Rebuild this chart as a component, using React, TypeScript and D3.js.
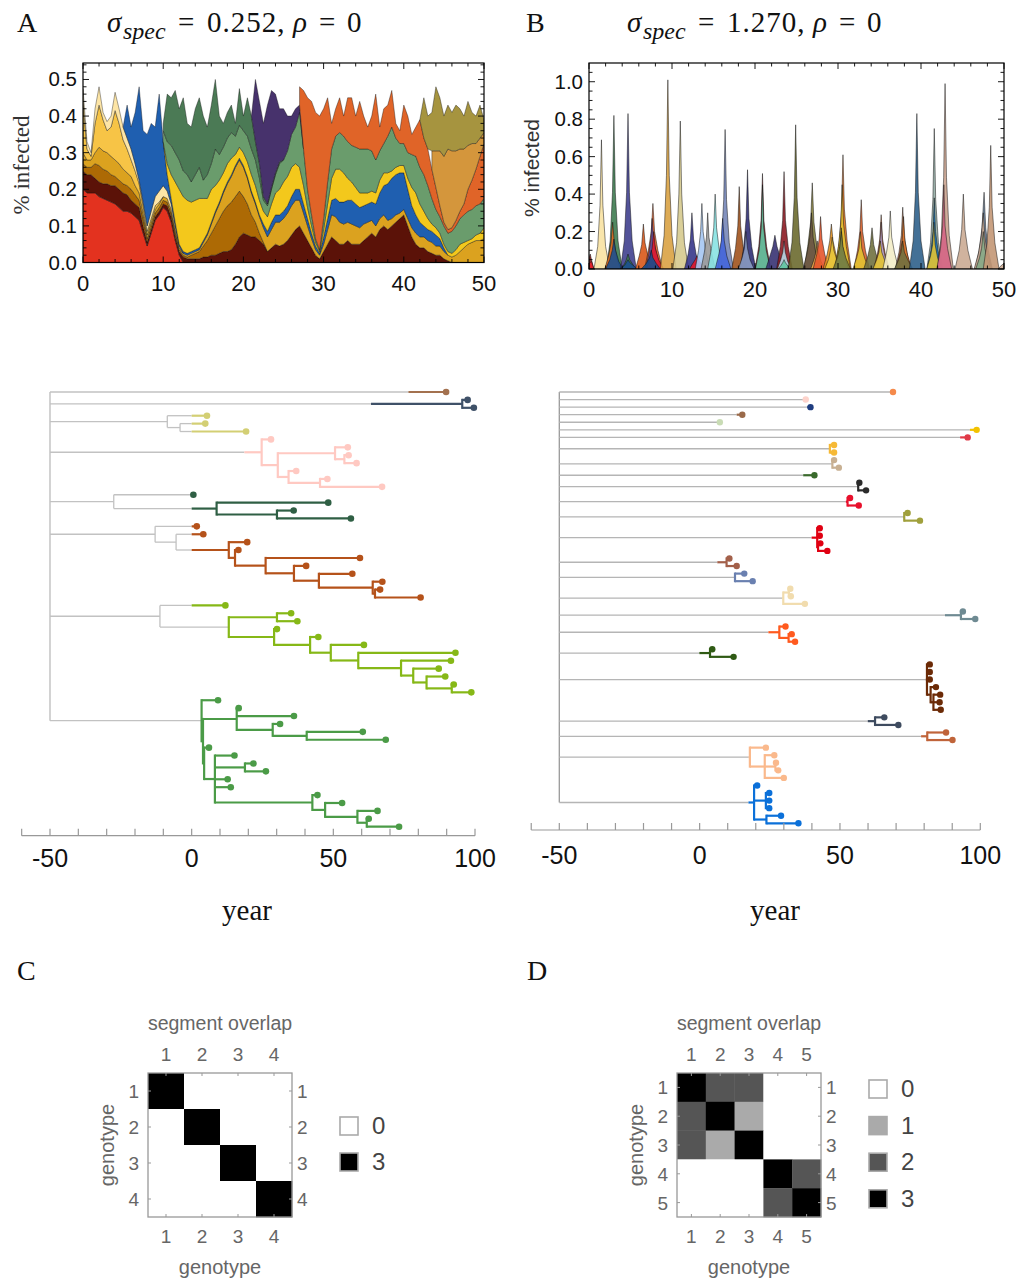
import React from 'react';
import * as d3 from 'd3';

const SANS = "'Liberation Sans', Arial, sans-serif";
const SERIF = "'Liberation Serif', 'Times New Roman', serif";

// ================= Panel A: stacked prevalence (step 0.5 yr) =================
const stackKeys = ['red', 'maroon', 'dkgold', 'goldenrod', 'lightgold', 'cream', 'blue', 'yellow', 'green', 'dkgreen', 'purple', 'orange', 'tan', 'olive'];
const stackColors = ['#e3321f', '#5b1208', '#ad6a05', '#dba21f', '#f7c446', '#fde5a6', '#1f5fb0', '#f3c81c', '#6a9c6c', '#4b7a55', '#47326c', '#e06428', '#d4963c', '#a6943f'];
const stackStarts = [0, 0, 0, 0, 0, 0, 5, 10, 10, 10, 21, 27, 43.5, 42];

const redVals = [.20, .19, .19, .19, .18, .175, .17, .165, .16, .15, .14, .14, .135, .125, .115, .08, .045, .08, .115, .13, .15, .14, .11, .06, .02, 0];
const maroonVals = [.05, .05, .05, .04, .04, .04, .045, .045, .05, .05, .05, .045, .035, .035, .035, .02, .01, .01, .01, .01, .01, .015, .015, .01, .01, .015,
  .01, .01, .01, .01, .015, .015, .02, .02, .025, .03, .03, .035, .05, .07, .08, .075, .07, .07,
  .06, .05, .03, .04, .05, .045, .05, .06, .075, .09, .10, .08,
  .06, .04, .02, .01, .03, .05, .07, .06, .05, .05, .06,
  .05, .05, .05, .06, .07, .08, .07, .09, .10, .09, .10, .11, .12, .13, .10, .07, .05, .04, .04, .03, .025, .02, .02, .01, .005, 0];
const dkgoldVals = [.02, .02, .02, .04, .045, .04, .035, .03, .025, .025, .025, .025, .03, .025, .02, .02, .01, .01, .01, .01, .01, .01, .01, .01, .005, .005,
  .005, .01, .015, .02, .03, .045, .06, .08, .095, .11, .125, .13, .13, .125, .10, .085, .06, .04, .02, .005, 0];
const goldenrodVals = [.03, .02, .02, .03, .05, .05, .05, .05, .045, .045, .04, .035, .035, .025, .02, .015, .01, .01, .01, .01, .01, .01, .01, .01, .005, .005,
  .005, .005, .005, .005, .01, .015, .025, .035,
  .04, .05, .06, .07, .08, .085, .08, .07, .06, .05,
  .045, .04, .04, .05, .06, .065, .07, .075, .08, .08, .07, .055,
  .04, .025, .015, .01, .02, .04, .06, .065, .06, .055, .05,
  .055, .05, .045, .045, .04, .035, .03, .03, .03, .025, .02, .02, .015, .015, .02, .025, .03, .03, .03, .03, .03, .025, .025, .02, .015, .015, .02, .03, .04, .05, .055, .06, .06, .065];
const lightgoldVals = [.14, .03, .01, .08, .115, .085, .06, .08, .135, .11, .08, .065, .045, .04, .025, .02, .01, .01, .01, .005, 0];
const creamVals = [.035, .02, .01, .04, .05, .02, .025, .03, .05, .04, .035, .03, .03, .02, .01, .01, .015, .02, .025, .03, .03, .02, .015, .01, .005, 0];
const blueVals = [0, .09, .06, .14, .255, .195, .25, .24, .19, .265, .12, .045, .015, .01, .005, .005,
  .005, .005, .005, .005, .005, .005, .005, .005, .005, .005, .005, .005, .005, .005, .005, .005, .005, .005,
  .005, .01, .015, .02, .02, .02, .02, .02, .025, .03, .03, .025,
  .02, .015, .01, .005, .02, .03, .04, .05, .055, .06, .06,
  .065, .06, .055, .05, .05, .05, .06, .07, .08, .10, .11, .11, .11, .10, .08, .06, .05, .04, .03, .03, .03, .03, .02, .01, 0];
const yellowVals = [0, .03, .065, .11, .15, .15, .145, .135, .135, .135, .115, .095, .09, .07, .06, .05, .05, .045, .03, .03, .035, .04, .045, .045, .04, .035,
  .04, .05, .06, .07, .08, .08, .08, .07, .06, .05, .03, .02, .01, .005, .02, .04, .06, .08, .09, .08, .06, .05, .045, .04, .035, .03, .03, .03, .035, .035,
  .03, .02, .02, .02, .02, .03, .05, .06, .05, .04, .03, .02, .02, .015, .01, .01, .01, .015, .02, .015, .01, .01, .015, .02, .03];
const greenVals = [.03, .06, .08, .08, .08, .07, .07, .055, .07, .085, .05, .065, .07, .10, .07, .07, .07, .07, .05, .06, .06, .07, .07, .07, .06, .03,
  .03, .04, .05, .07, .06, .07, .09, .10, .15, .10, .05, .03, .01, .005, .03, .06, .08, .09, .10, .10, .10, .10, .11, .12, .12, .12, .11, .09, .08, .08,
  .10, .12, .08, .06, .06, .07, .09, .10, .10, .10, .09, .07, .05, .045, .05, .05, .06, .065, .07, .075, .08, .08, .08, .08, .08];
const dkgreenVals = [.02, .13, .13, .17, .14, .20, .14, .15, .18, .19, .175, .13, .16, .19, .105, .065, .07, .075, .035, .10, .04, .105, .09, .05, .04, .01, .005, .005, .005, .005, 0];
const purpleVals = [0, .17, .17, .20, .27, .265, .215, .145, .14, .095, .05, .05, .02, 0];
const orangeVals = [.05, .16, .25, .31, .345, .365, .30, .23, .07, .075, .095, .055, .12, .13, .085, .13, .09, .06, .095, .18, .065, .095, .085, .10, .04, .035,
  .105, .10, .055, .08, .13, .10, .10, .08, .06, .03, .01, .01, .01, .015, .02, .03, .06, .08, .10, .13, .15];
const tanVals = [.05, .10, .15, .18, .22, .21, .19, .17, .15, .12, .10, .07, .05, .03];
const oliveVals = [0, .11, .09, .105, .175, .145, .11, .12, .105, .125, .11, .09, .12, .085, .075, .09, .035];
const stackValues = [redVals, maroonVals, dkgoldVals, goldenrodVals, lightgoldVals, creamVals, blueVals, yellowVals, greenVals, dkgreenVals, purpleVals, orangeVals, tanVals, oliveVals];

const aYTicks = [0, 0.1, 0.2, 0.3, 0.4, 0.5];
const bYTicks = [0, 0.2, 0.4, 0.6, 0.8, 1.0];
const xTicks = [0, 10, 20, 30, 40, 50];

// ================= Panel B: epidemic peaks =================
const peakColors = ['#8a1c1c', '#e8202a', '#f8e2a2', '#3e7b50', '#e06a22', '#1b4f8f', '#40408e', '#3e7b50', '#1b4f8f', '#d9581a',
  '#e3622c', '#5a4ba0', '#e2182c', '#1a4d8c', '#d9a244', '#d6ca8e', '#36368a', '#e2182c', '#a5c6f2', '#9a9a9a',
  '#88e2e2', '#7586b8', '#4466da', '#a1531d', '#2f2f74', '#8a9bc2', '#8c1c24', '#60c4a2', '#373272', '#8c1c24',
  '#b8d8e8', '#60c4a2', '#6b6a2f', '#86803f', '#6a5444', '#f2a74a', '#e5552b', '#e3901f', '#e8c83c', '#e07020',
  '#e2c232', '#60c4a2', '#7a7a3a', '#d9622c', '#e2c232', '#717140', '#e0692f', '#b3a4d2', '#e2c232', '#f3edc8',
  '#b07049', '#e0762a', '#707040', '#2f608b', '#95ada5', '#1a70b2', '#e2c232', '#caa38f', '#d46585', '#cbab93',
  '#6a8098', '#cbab93', '#86a886', '#c39775', '#cbab93'];
const peakTimes = [
  [0, 0.15, 0.3, 0.6], [0, 0.3, 0.6],
  [0.6, 1.05, 1.33, 1.5, 1.67, 2.0, 2.5], [2.1, 2.55, 2.83, 3.0, 3.17, 3.5, 4.0], [1.9, 2.35, 2.65, 2.85, 3.05, 3.35, 3.8],
  [2.0, 2.5, 2.8, 3.0, 3.2, 3.6, 4.1], [3.8, 4.25, 4.53, 4.7, 4.87, 5.2, 5.7], [3.9, 4.3, 4.5, 4.7, 4.9, 5.2, 5.6],
  [3.8, 4.3, 4.5, 4.7, 4.9, 5.3, 5.8], [5.6, 6.05, 6.35, 6.55, 6.75, 7.05, 7.5], [6.7, 7.15, 7.5, 7.7, 7.9, 8.3, 8.9],
  [6.8, 7.2, 7.45, 7.6, 7.8, 8.2, 8.7], [6.9, 7.3, 7.6, 7.8, 8.0, 8.4, 9.0], [6.3, 6.9, 7.3, 7.5, 7.7, 8.1, 8.6],
  [8.6, 9.05, 9.33, 9.5, 9.67, 10.0, 10.5], [10.1, 10.55, 10.83, 11.0, 11.17, 11.5, 12.0], [11.5, 11.95, 12.22, 12.4, 12.6, 12.9, 13.4],
  [12.1, 12.5, 12.8, 13.0, 13.2, 13.5, 13.9], [12.8, 13.2, 13.45, 13.6, 13.75, 14.05, 14.5], [13.5, 13.9, 14.15, 14.3, 14.45, 14.75, 15.2],
  [14.3, 14.75, 15.03, 15.2, 15.37, 15.7, 16.2], [15.5, 15.95, 16.23, 16.4, 16.57, 16.9, 17.4], [15.2, 15.65, 15.93, 16.1, 16.3, 16.6, 17.1],
  [17.2, 17.65, 17.93, 18.1, 18.27, 18.6, 19.1], [18.2, 18.65, 18.93, 19.1, 19.27, 19.6, 20.1], [18.0, 18.45, 18.72, 18.9, 19.1, 19.4, 19.9],
  [20.0, 20.45, 20.73, 20.9, 21.07, 21.4, 21.9], [20.05, 20.5, 20.75, 20.9, 21.05, 21.35, 21.85], [21.3, 21.8, 22.15, 22.4, 22.65, 23.0, 23.4],
  [22.6, 23.05, 23.33, 23.5, 23.67, 24.0, 24.5], [22.7, 23.1, 23.35, 23.5, 23.65, 23.95, 24.4], [22.8, 23.15, 23.35, 23.5, 23.65, 23.9, 24.3],
  [24.0, 24.45, 24.73, 24.9, 25.07, 25.4, 25.9], [25.9, 26.35, 26.7, 26.9, 27.1, 27.45, 28.0], [25.8, 26.25, 26.6, 26.8, 27.0, 27.35, 27.9],
  [26.7, 27.1, 27.35, 27.5, 27.65, 27.95, 28.4], [27.0, 27.45, 27.73, 27.9, 28.07, 28.4, 28.9], [28.2, 28.7, 29.0, 29.2, 29.4, 29.75, 30.3],
  [28.4, 28.85, 29.1, 29.3, 29.5, 29.85, 30.4], [29.7, 30.15, 30.43, 30.6, 30.77, 31.1, 31.6], [29.6, 30.05, 30.33, 30.5, 30.67, 31.0, 31.5],
  [29.6, 30.0, 30.25, 30.4, 30.55, 30.85, 31.3], [29.4, 29.9, 30.2, 30.4, 30.6, 30.95, 31.5], [31.9, 32.35, 32.63, 32.8, 32.97, 33.3, 33.8],
  [31.8, 32.25, 32.53, 32.7, 32.87, 33.2, 33.7], [33.1, 33.6, 33.9, 34.1, 34.3, 34.65, 35.2], [34.3, 34.75, 35.03, 35.2, 35.37, 35.7, 36.2],
  [34.4, 34.8, 35.05, 35.2, 35.35, 35.65, 36.1], [34.2, 34.65, 34.93, 35.1, 35.27, 35.6, 36.1], [35.4, 35.85, 36.13, 36.3, 36.47, 36.8, 37.3],
  [36.9, 37.35, 37.63, 37.8, 37.97, 38.3, 38.8], [37.0, 37.45, 37.73, 37.9, 38.07, 38.4, 38.9], [36.8, 37.3, 37.6, 37.8, 38.0, 38.4, 39.0],
  [38.6, 39.05, 39.33, 39.5, 39.67, 40.0, 40.5], [40.7, 41.15, 41.43, 41.6, 41.77, 42.1, 42.6], [40.75, 41.2, 41.45, 41.6, 41.75, 42.05, 42.5],
  [40.7, 41.15, 41.4, 41.55, 41.7, 42.0, 42.4], [42.0, 42.45, 42.73, 42.9, 43.07, 43.4, 43.9], [41.9, 42.35, 42.6, 42.75, 42.9, 43.2, 43.7],
  [44.1, 44.6, 44.9, 45.1, 45.3, 45.65, 46.2], [46.5, 47.0, 47.35, 47.6, 47.8, 48.1, 48.6], [46.4, 46.9, 47.25, 47.5, 47.7, 48.0, 48.5],
  [46.6, 47.05, 47.3, 47.5, 47.7, 48.0, 48.4], [47.5, 47.95, 48.23, 48.4, 48.57, 48.9, 49.4], [49.3, 49.7, 50.0]];
const peakValues = [
  [.06, .08, .05, 0], [.03, .04, 0],
  [0, .12, .34, .69, .34, .12, 0], [0, .15, .41, .82, .41, .15, 0], [0, .07, .14, .25, .14, .06, 0],
  [0, .05, .10, .16, .10, .04, 0], [0, .15, .41, .83, .41, .15, 0], [0, .03, .05, .08, .05, .03, 0],
  [0, .02, .035, .05, .035, .02, 0], [0, .07, .13, .24, .14, .08, 0], [0, .10, .20, .35, .20, .10, 0],
  [0, .08, .16, .27, .15, .07, 0], [0, .05, .11, .20, .11, .05, 0], [0, .03, .06, .10, .06, .03, 0],
  [0, .18, .50, 1.01, .50, .18, 0], [0, .14, .40, .79, .40, .14, 0], [0, .08, .16, .30, .16, .08, 0],
  [0, .03, .05, .07, .05, .03, 0], [0, .10, .20, .35, .20, .10, 0], [0, .09, .17, .30, .17, .09, 0],
  [0, .11, .22, .40, .22, .10, 0], [0, .14, .37, .745, .37, .14, 0], [0, .08, .15, .27, .15, .07, 0],
  [0, .11, .23, .44, .23, .11, 0], [0, .12, .27, .53, .27, .12, 0], [0, .06, .11, .20, .11, .05, 0],
  [0, .12, .26, .51, .26, .12, 0], [0, .10, .22, .45, .22, .10, 0], [0, .07, .12, .18, .12, .07, 0],
  [0, .12, .26, .52, .26, .12, 0], [0, .05, .09, .15, .09, .04, 0], [0, .02, .035, .05, .035, .02, 0],
  [0, .14, .38, .77, .38, .14, 0], [0, .12, .25, .46, .25, .12, 0], [0, .08, .17, .30, .17, .08, 0],
  [0, .05, .09, .15, .09, .04, 0], [0, .08, .16, .28, .16, .08, 0], [0, .08, .15, .24, .15, .08, 0],
  [0, .05, .10, .17, .10, .05, 0], [0, .15, .32, .61, .32, .15, 0], [0, .12, .24, .45, .24, .12, 0],
  [0, .06, .12, .22, .12, .06, 0], [0, .06, .12, .20, .12, .06, 0], [0, .10, .20, .37, .20, .10, 0],
  [0, .06, .11, .20, .11, .06, 0], [0, .07, .13, .22, .13, .07, 0], [0, .08, .16, .29, .16, .08, 0],
  [0, .07, .14, .25, .14, .07, 0], [0, .05, .09, .15, .09, .05, 0], [0, .09, .17, .31, .17, .09, 0],
  [0, .09, .18, .33, .18, .09, 0], [0, .08, .15, .28, .15, .07, 0], [0, .05, .09, .15, .09, .05, 0],
  [0, .15, .41, .83, .41, .15, 0], [0, .14, .37, .75, .37, .14, 0], [0, .10, .20, .38, .20, .10, 0],
  [0, .07, .13, .25, .13, .06, 0], [0, .18, .49, .99, .49, .18, 0], [0, .11, .23, .45, .23, .11, 0],
  [0, .10, .21, .40, .21, .10, 0], [0, .10, .22, .41, .22, .10, 0], [0, .08, .17, .30, .17, .08, 0],
  [0, .06, .11, .20, .11, .05, 0], [0, .14, .33, .66, .33, .14, 0], [0, .02, .03]];

// ================= Trees =================
interface TNode { t: number; col?: string; cs?: number; ch?: TNode[] }
const lf = (t: number, col?: string, cs?: number): TNode => ({ t, col, cs });
const nd = (t: number, ch: TNode[], col?: string, cs?: number): TNode => ({ t, ch, col, cs });

const treeA = nd(-50, [
  lf(89.8, '#a3714f', 76.5),
  nd(95.5, [lf(97.4), lf(99.6)], '#3f5168', 63.3),
  nd(-8.6, [lf(5.4), nd(-4.1, [lf(4.8), lf(19.2)])], '#d3cf74', 0),
  nd(24.7, [lf(28), nd(30.4, [nd(50.6, [lf(55.1), nd(53.9, [lf(55.4), lf(58.2)])]), nd(34.2, [lf(36.9), nd(45.3, [lf(47.9), lf(67.2)])])])], '#ffc9c2', 18.6),
  nd(-27.5, [lf(0.6), nd(8.8, [lf(48.2), nd(30.1, [lf(36), lf(56.2)])])], '#2f5f44', 0),
  nd(-12.9, [lf(1.8), nd(-5.5, [lf(4.1), nd(13.1, [lf(19.6), nd(15.3, [lf(16.5), nd(26.1, [lf(59.4), nd(36.1, [lf(40.4), nd(44.9, [lf(56.7), nd(63.9, [lf(67.3), nd(64.7, [lf(66.5), lf(80.8)])])])])])])])])], '#b5521a', 0),
  nd(-11.2, [lf(11.9), nd(13.1, [nd(30.1, [lf(35.1), lf(37.3)]), nd(29.1, [lf(30.1), nd(41.8, [lf(44.7), nd(49.1, [lf(60.8), nd(58.8, [lf(93.1), nd(73.9, [lf(91.5), nd(78.2, [lf(87.2), nd(82.9, [lf(89.5), nd(91.8, [lf(92.5), lf(98.7)])])])])])])])])], undefined, 13.1)], '#86b817', 0),
  nd(3.5, [lf(9.3), nd(4.0, [nd(15.9, [lf(16.6), lf(36.1), nd(28.6, [lf(31.2), nd(40.6, [lf(60.4), lf(68.5)])])]), nd(4.4, [lf(6.1), nd(8.2, [lf(15.1), nd(18.8, [lf(21.8), lf(26.2)]), lf(12.7), lf(13.8), nd(42.6, [lf(44.4), nd(47.1, [lf(53.1), nd(58.5, [lf(65.6), nd(61.8, [lf(62.5), lf(73.2)])])])])])])])], '#4b9b47', 3.5),
]);

const treeB = nd(-50, [
  lf(68.9, '#f58a4b', 68.9),
  lf(37.8, '#fdd3cb', 37.8),
  lf(39.5, '#1f3d80', 38.4),
  lf(15.2, '#9a6a4a', 13.2),
  lf(7.2, '#c9dcb5', 7.2),
  lf(98.7, '#f2c200', 96.3),
  lf(95.5, '#e03a48', 92.8),
  nd(46.4, [lf(47.9), lf(47.9)], '#f6b935', 46.2),
  nd(47.3, [lf(47.9), lf(49.6)], '#c8b092', 47.2),
  lf(40.9, '#3a6a2c', 36.9),
  nd(56.5, [lf(56.9), lf(59.3)], '#2b2b2b', 56.3),
  nd(52.7, [lf(53.6), lf(56.7)], '#e8102c', 52.1),
  nd(72.9, [lf(74.1), lf(78.5)], '#a0a03c', 72.6),
  nd(41.9, [lf(42.8), lf(42.8), nd(42.2, [lf(43.0), lf(45.5)])], '#e00012', 39.9),
  nd(9.6, [lf(10.6), lf(13.2)], '#a3604a', 6.3),
  nd(12.6, [lf(15.9), lf(18.9)], '#6a80b0', 12.3),
  nd(29.8, [nd(31.8, [lf(32.3), lf(32.5)]), lf(37.5)], '#f1dcae', 29.4),
  nd(93.1, [lf(93.8), lf(98.2)], '#6e8a92', 87.4),
  nd(28.4, [lf(30.6), nd(31.7, [lf(32.8), lf(34.0)])], '#ff5a1f', 24.5),
  nd(3.7, [lf(4.5), lf(12.1)], '#2f5a14', -0.1),
  nd(81.0, [lf(82), lf(82), lf(82), nd(82.3, [lf(84.2), nd(83.3, [lf(85.7), lf(85.5), lf(85.9)])])], '#6b2a06', 80.6),
  nd(62.5, [lf(65.8), lf(70.8)], '#3e4b5f', 59.9),
  nd(81.1, [lf(87.8), lf(90.1)], '#c0643a', 78.9),
  nd(17.9, [lf(23.6), nd(23.2, [lf(26.6), nd(27.0, [lf(27.2), lf(28.0)]), lf(30.0)])], '#fab98c', 17.5),
  nd(19.4, [lf(20.5), nd(23.6, [lf(24.8), lf(24.8), lf(24.8)]), nd(23.8, [lf(29.0), lf(35.2)])], '#0b70d9', 17.4),
]);

const treeTickYears = [-60, -50, -40, -30, -20, -10, 0, 10, 20, 30, 40, 50, 60, 70, 80, 90, 100];
const treeLabelYears = [-50, 0, 50, 100];

// ================= Heatmaps =================
const cLabels = ['1', '2', '3', '4'];
const cMatrix = [[3, 0, 0, 0], [0, 3, 0, 0], [0, 0, 3, 0], [0, 0, 0, 3]];
const dLabels = ['1', '2', '3', '4', '5'];
const dMatrix = [[3, 2, 2, 0, 0], [2, 3, 1, 0, 0], [2, 1, 3, 0, 0], [0, 0, 0, 3, 2], [0, 0, 0, 2, 3]];
const overlapLevels = [0, 1, 2, 3];
const overlapColors = ['#ffffff', '#aaaaaa', '#555555', '#000000'];
const cLegend = [0, 3];
const dLegend = [0, 1, 2, 3];

// ================= Components =================
function Frame(props: { x: any; y: any; xMinorStep: number; yMajor: number[]; yMinorStep: number; yMax: number; }) {
  const { x, y, xMinorStep, yMajor, yMinorStep, yMax } = props;
  const [x0, x1] = x.range();
  const [yb, yt] = y.range();
  const els: any[] = [];
  const xMin = d3.range(0, 50.0001, xMinorStep);
  xMin.forEach((v, i) => {
    const major = xTicks.includes(v);
    const L = major ? 6 : 3.5;
    els.push(<line key={'xb' + i} x1={x(v)} x2={x(v)} y1={yb} y2={yb - L} stroke="#000" strokeWidth={0.9} />);
    els.push(<line key={'xt' + i} x1={x(v)} x2={x(v)} y1={yt} y2={yt + L} stroke="#000" strokeWidth={0.9} />);
  });
  const yMin = d3.range(0, yMax + 1e-9, yMinorStep);
  yMin.forEach((v, i) => {
    const major = yMajor.some(m => Math.abs(m - v) < 1e-6);
    const L = major ? 6 : 3.5;
    els.push(<line key={'yl' + i} x1={x0} x2={x0 + L} y1={y(v)} y2={y(v)} stroke="#000" strokeWidth={0.9} />);
    els.push(<line key={'yr' + i} x1={x1} x2={x1 - L} y1={y(v)} y2={y(v)} stroke="#000" strokeWidth={0.9} />);
  });
  return (
    <g>
      <rect x={x0} y={yt} width={x1 - x0} height={yb - yt} fill="none" stroke="#000" strokeWidth={1.2} />
      {els}
      {yMajor.map((v, i) => (
        <text key={'yl' + i} x={x0 - 6} y={y(v) + 7} textAnchor="end" fontFamily={SANS} fontSize={20.5} fill="#111">{d3.format('.1f')(v)}</text>
      ))}
      {xTicks.map((v, i) => (
        <text key={'xl' + i} x={x(v)} y={yb + 28} textAnchor="middle" fontFamily={SANS} fontSize={22} fill="#111">{v}</text>
      ))}
    </g>
  );
}

function StackPanel() {
  const x = d3.scaleLinear().domain([0, 50]).range([83, 484]);
  const y = d3.scaleLinear().domain([0, 0.545]).range([262.5, 63]);
  const times = d3.range(0, 50.0001, 0.5);
  const table = times.map((t, i) => {
    const row: any = { t };
    stackKeys.forEach((k, j) => {
      const off = Math.round(stackStarts[j] / 0.5);
      const v = stackValues[j][i - off];
      row[k] = v === undefined ? 0 : v;
    });
    return row;
  });
  const series = d3.stack<any>().keys(stackKeys)(table);
  const area = d3.area<any>().x(d => x(d.data.t)).y0(d => y(d[0])).y1(d => y(d[1]));
  return (
    <g>
      <defs>
        <clipPath id="clipA"><rect x={83} y={63} width={401} height={199.5} /></clipPath>
      </defs>
      <g clipPath="url(#clipA)">
        {series.map((s, j) => {
          const off = Math.round(stackStarts[j] / 0.5);
          const pts = s.slice(off, off + stackValues[j].length);
          return <path key={j} d={area(pts) || ''} fill={stackColors[j]} stroke="#111" strokeOpacity={0.55} strokeWidth={0.7} strokeLinejoin="round" />;
        })}
      </g>
      <Frame x={x} y={y} xMinorStep={2} yMajor={aYTicks} yMinorStep={0.02} yMax={0.54} />
    </g>
  );
}

function PeakPanel() {
  const x = d3.scaleLinear().domain([0, 50]).range([589, 1004]);
  const y = d3.scaleLinear().domain([0, 1.1]).range([269, 63]);
  const area = d3.area<[number, number]>().x(d => x(d[0])).y0(y(0)).y1(d => y(d[1]));
  return (
    <g>
      <defs>
        <clipPath id="clipB"><rect x={589} y={63} width={415} height={206} /></clipPath>
      </defs>
      <g clipPath="url(#clipB)">
        {peakColors.map((c, i) => {
          const pts = peakTimes[i].map((t, k) => [t, peakValues[i][k]] as [number, number]);
          return <path key={i} d={area(pts) || ''} fill={c} fillOpacity={0.9} stroke="#111" strokeOpacity={0.7} strokeWidth={0.7} strokeLinejoin="round" />;
        })}
      </g>
      <Frame x={x} y={y} xMinorStep={2} yMajor={bYTicks} yMinorStep={0.05} yMax={1.09} />
    </g>
  );
}

function Tree(props: { root: TNode; x: any; rowY: any; gray: string; rootGray: string; lw: number; r: number; }) {
  const { root, x, rowY, gray, rootGray, lw, r } = props;
  const ys = new Map<TNode, number>();
  let row = 0;
  const place = (n: TNode): number => {
    if (!n.ch) { const v = rowY(row++); ys.set(n, v); return v; }
    const cy = n.ch.map(place);
    const v = (cy[0] + cy[cy.length - 1]) / 2;
    ys.set(n, v);
    return v;
  };
  place(root);
  const grays: any[] = [], cols: any[] = [], dots: any[] = [];
  let k = 0;
  const walk = (n: TNode, pt: number | undefined, col: string | undefined, cs: number) => {
    const c = n.col ?? col;
    const s = n.cs ?? cs;
    const yv = ys.get(n)!;
    if (pt !== undefined) {
      if (c && n.t > s) {
        const split = Math.max(pt, s);
        if (split > pt) grays.push(<line key={k++} x1={x(pt)} x2={x(split)} y1={yv} y2={yv} stroke={gray} strokeWidth={1.3} />);
        cols.push(<line key={k++} x1={x(split)} x2={x(n.t)} y1={yv} y2={yv} stroke={c} strokeWidth={lw} />);
      } else {
        grays.push(<line key={k++} x1={x(pt)} x2={x(n.t)} y1={yv} y2={yv} stroke={gray} strokeWidth={1.3} />);
      }
    }
    if (n.ch) {
      const ya = ys.get(n.ch[0])!, yb = ys.get(n.ch[n.ch.length - 1])!;
      if (c && n.t >= s) cols.push(<line key={k++} x1={x(n.t)} x2={x(n.t)} y1={ya - lw / 2} y2={yb + lw / 2} stroke={c} strokeWidth={lw} />);
      else grays.push(<line key={k++} x1={x(n.t)} x2={x(n.t)} y1={ya} y2={yb} stroke={pt === undefined ? rootGray : gray} strokeWidth={1.3} />);
      n.ch.forEach(ch => walk(ch, n.t, c, s));
    } else {
      dots.push(<circle key={k++} cx={x(n.t)} cy={yv} r={r} fill={c ?? gray} />);
    }
  };
  walk(root, undefined, undefined, -Infinity);
  return <g>{grays}{cols}{dots}</g>;
}

function TreeAxis(props: { x: any; y: number; labelY: number; yearY: number; yearX: number }) {
  const { x, y, labelY, yearY, yearX } = props;
  return (
    <g>
      <line x1={x(-60)} x2={x(100)} y1={y} y2={y} stroke="#999" strokeWidth={1.2} />
      {treeTickYears.map((v, i) => (
        <line key={i} x1={x(v)} x2={x(v)} y1={y} y2={y - 7} stroke="#999" strokeWidth={1.2} />
      ))}
      {treeLabelYears.map((v, i) => (
        <text key={i} x={x(v)} y={labelY} textAnchor="middle" fontFamily={SANS} fontSize={25} fill="#111">{v < 0 ? '-' + Math.abs(v) : v}</text>
      ))}
      <text x={yearX} y={yearY} textAnchor="middle" fontFamily={SERIF} fontSize={29} fill="#111">year</text>
    </g>
  );
}

function Heat(props: { x0: number; y0: number; size: number; labels: string[]; matrix: number[][]; legend: number[]; lx: number; ly: number; lstep: number; }) {
  const { x0, y0, size, labels, matrix, legend, lx, ly, lstep } = props;
  const bx = d3.scaleBand<string>().domain(labels).range([x0, x0 + size]);
  const by = d3.scaleBand<string>().domain(labels).range([y0, y0 + size]);
  const color = d3.scaleOrdinal<number, string>().domain(overlapLevels).range(overlapColors);
  const cx = x0 + size / 2;
  const bw = bx.bandwidth();
  const tg = '#666';
  return (
    <g>
      {matrix.map((rowv, i) => rowv.map((v, j) => (
        <rect key={i + '-' + j} x={bx(labels[j])!} y={by(labels[i])!} width={bw + 0.3} height={by.bandwidth() + 0.3} fill={color(v)} />
      )))}
      <rect x={x0} y={y0} width={size} height={size} fill="none" stroke="#999" strokeWidth={1.3} />
      {labels.map((l, i) => {
        const px = bx(l)! + bw / 2;
        const py = by(l)! + bw / 2;
        return (
          <g key={i}>
            <line x1={px} x2={px} y1={y0} y2={y0 + 3} stroke="#999" />
            <line x1={px} x2={px} y1={y0 + size} y2={y0 + size - 3} stroke="#999" />
            <line x1={x0} x2={x0 + 3} y1={py} y2={py} stroke="#999" />
            <line x1={x0 + size} x2={x0 + size - 3} y1={py} y2={py} stroke="#999" />
            <text x={px} y={y0 - 12} textAnchor="middle" fontFamily={SANS} fontSize={19} fill={tg}>{l}</text>
            <text x={px} y={y0 + size + 26} textAnchor="middle" fontFamily={SANS} fontSize={19} fill={tg}>{l}</text>
            <text x={x0 - 9} y={py + 7} textAnchor="end" fontFamily={SANS} fontSize={19} fill={tg}>{l}</text>
            <text x={x0 + size + 5} y={py + 7} textAnchor="start" fontFamily={SANS} fontSize={19} fill={tg}>{l}</text>
          </g>
        );
      })}
      <text x={cx} y={y0 - 43} textAnchor="middle" fontFamily={SANS} fontSize={19.5} fill={tg}>segment overlap</text>
      <text x={cx} y={y0 + size + 57} textAnchor="middle" fontFamily={SANS} fontSize={20} fill={tg}>genotype</text>
      <text transform={`translate(${x0 - 34},${y0 + size / 2}) rotate(-90)`} textAnchor="middle" fontFamily={SANS} fontSize={20} fill={tg}>genotype</text>
      {legend.map((v, i) => (
        <g key={'lg' + i}>
          <rect x={lx} y={ly + i * lstep} width={18} height={18} fill={color(v)} stroke="#aaa" strokeWidth={1.6} />
          <text x={lx + 32} y={ly + i * lstep + 17} fontFamily={SANS} fontSize={24} fill="#444">{v}</text>
        </g>
      ))}
    </g>
  );
}

function Title(props: { x: number; parts: number[]; value: string }) {
  const { x, parts, value } = props;
  return (
    <text y={32} fontFamily={SERIF} fontSize={29} fill="#111">
      <tspan x={x} fontStyle="italic">σ</tspan>
      <tspan x={x + parts[0]} fontStyle="italic" fontSize={24} dy={7}>spec</tspan>
      <tspan x={x + parts[1]} dy={-7}>=</tspan>
      <tspan x={x + parts[2]} letterSpacing={1}>{value},</tspan>
      <tspan x={x + parts[3]} fontStyle="italic">ρ</tspan>
      <tspan x={x + parts[4]}>=</tspan>
      <tspan x={x + parts[5]}>0</tspan>
    </text>
  );
}

export default function App() {
  const xTA = d3.scaleLinear().domain([-50, 100]).range([50, 475]);
  const rowA = d3.scaleLinear().domain([0, 55]).range([392, 826.7]);
  const xTB = d3.scaleLinear().domain([-50, 100]).range([559.3, 980.3]);
  const rowB = d3.scaleLinear().domain([0, 57]).range([392, 823.3]);
  return (
    <svg width={1018} height={1280} style={{ position: 'absolute', left: 0, top: 0, background: '#fff' }}>
      <rect width={1018} height={1280} fill="#fff" />
      <text x={17} y={32} fontFamily={SERIF} fontSize={28} fill="#111">A</text>
      <text x={526} y={32} fontFamily={SERIF} fontSize={28} fill="#111">B</text>
      <text x={17} y={980} fontFamily={SERIF} fontSize={28} fill="#111">C</text>
      <text x={527} y={980} fontFamily={SERIF} fontSize={28} fill="#111">D</text>
      <Title x={107} parts={[16, 71, 100, 186, 212, 240]} value="0.252" />
      <Title x={627} parts={[16, 71, 100, 186, 212, 240]} value="1.270" />
      <text transform="translate(29,165) rotate(-90)" textAnchor="middle" fontFamily={SERIF} fontSize={23} fill="#333">% infected</text>
      <text transform="translate(539,168) rotate(-90)" textAnchor="middle" fontFamily={SANS} fontSize={21} fill="#333">% infected</text>
      <StackPanel />
      <PeakPanel />
      <Tree root={treeA} x={xTA} rowY={rowA} gray="#c2c2c2" rootGray="#bbbbbb" lw={2.2} r={3.3} />
      <TreeAxis x={xTA} y={835.7} labelY={867} yearY={920} yearX={247} />
      <Tree root={treeB} x={xTB} rowY={rowB} gray="#b5b5b5" rootGray="#999999" lw={2.2} r={3.2} />
      <TreeAxis x={xTB} y={830} labelY={864} yearY={920} yearX={775} />
      <Heat x0={148} y0={1073} size={144} labels={cLabels} matrix={cMatrix} legend={cLegend} lx={340} ly={1117} lstep={36} />
      <Heat x0={677} y0={1073} size={144} labels={dLabels} matrix={dMatrix} legend={dLegend} lx={869} ly={1080} lstep={36.6} />
    </svg>
  );
}
